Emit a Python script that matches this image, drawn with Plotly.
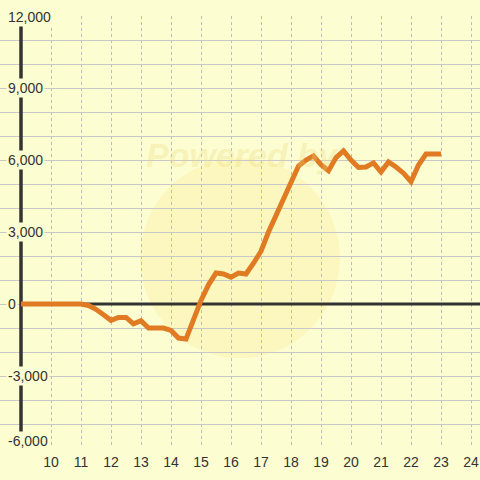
import plotly.graph_objects as go

# saat ve kümülatif değer
hours = [9.0, 9.25, 9.5, 9.75, 10.0, 10.25, 10.5, 10.75, 11.0, 11.25, 11.5, 11.75,
         12.0, 12.25, 12.5, 12.75, 13.0, 13.25, 13.5, 13.75, 14.0, 14.25, 14.5, 14.75,
         15.0, 15.25, 15.5, 15.75, 16.0, 16.25, 16.5, 16.75, 17.0, 17.25, 17.5, 17.75,
         18.0, 18.25, 18.5, 18.75, 19.0, 19.25, 19.5, 19.75, 20.0, 20.25, 20.5, 20.75,
         21.0, 21.25, 21.5, 21.75, 22.0, 22.25, 22.5, 22.75, 23.0]
values = [0, 0, 0, 0, 0, 0, 0, 0, 0, -60, -220, -450,
          -680, -560, -560, -830, -700, -1000, -1000, -1000, -1100, -1420, -1460, -600,
          150, 800, 1290, 1250, 1120, 1290, 1250, 1700, 2200, 3000, 3700, 4400,
          5000, 5750, 6000, 6170, 5800, 5550, 6100, 6380, 6000, 5690, 5710, 5880,
          5500, 5920, 5710, 5450, 5100, 5790, 6250, 6250, 6250]

x_ticks = list(range(10, 25))
y_ticks = [12000, 9000, 6000, 3000, 0, -3000, -6000]
y_tick_labels = ["12,000", "9,000", "6,000", "3,000", "0", "-3,000", "-6,000"]

bg = "#FDFDD2"
axis_color = "#333333"
x_min, x_max = 8.3, 24.3

fig = go.Figure()

fig.add_trace(
    go.Scatter(
        x=hours,
        y=values,
        mode="lines",
        line=dict(color="#E07B24", width=5),
        hoverinfo="skip",
    )
)

shapes = [
    # filigran dairesi
    dict(type="circle", xref="paper", yref="paper", x0=140 / 480, x1=340 / 480,
         y0=(448 - 358) / 432, y1=(448 - 158) / 432,
         fillcolor="rgba(250,228,120,0.22)", line=dict(width=0), layer="between"),
    # eksenin solundaki ızgarayı ört
    dict(type="rect", xref="x", yref="paper", x0=x_min, x1=9, y0=0, y1=1,
         fillcolor=bg, line=dict(width=0), layer="between"),
    # sıfır çizgisi
    dict(type="line", xref="x", yref="y", x0=9, x1=x_max, y0=0, y1=0,
         line=dict(color=axis_color, width=3), layer="between"),
    # y ekseni
    dict(type="line", xref="x", yref="y", x0=9, x1=9, y0=-6000, y1=12000,
         line=dict(color=axis_color, width=3.5), layer="between"),
]

annotations = []
for val, lbl in zip(y_ticks, y_tick_labels):
    shift = 0
    if val == y_ticks[0]:
        shift = -1
    elif val == y_ticks[-1]:
        shift = 7
    annotations.append(
        dict(text=lbl, x=6 / 480, xref="paper", xanchor="left", y=val, yref="y",
             yshift=shift, showarrow=False, bgcolor=bg, borderpad=1,
             font=dict(size=14, color=axis_color))
    )
annotations.append(
    dict(text="<b><i>Powered by</i></b>", x=242 / 480, xref="paper",
         y=(448 - 134) / 432, yref="paper", showarrow=False,
         font=dict(size=34, color="rgba(235,215,120,0.3)"))
)

fig.update_layout(
    width=480,
    height=480,
    margin=dict(l=0, r=0, t=16, b=32, autoexpand=False),
    paper_bgcolor=bg,
    plot_bgcolor=bg,
    showlegend=False,
    font=dict(family="Liberation Sans, Arial, sans-serif", size=14, color=axis_color),
    shapes=shapes,
    annotations=annotations,
)
fig.update_xaxes(
    range=[x_min, x_max],
    tickvals=x_ticks,
    showgrid=True,
    gridcolor="#BDBDBD",
    griddash="3px,3px",
    gridwidth=1,
    zeroline=False,
    showline=False,
    ticks="",
    ticklabelstandoff=4,
    tickfont=dict(size=14, color=axis_color),
)
fig.update_yaxes(
    range=[-6000, 12000],
    dtick=1000,
    showticklabels=False,
    showgrid=True,
    gridcolor="#C8C8C8",
    gridwidth=1,
    zeroline=False,
    showline=False,
    ticks="",
)

# sayfanın varsayılan 8px kenar boşluğunu kaldır
fig.write_html(
    "out.html",
    config={"displayModeBar": False},
    post_script="document.body.style.margin='0';",
)
